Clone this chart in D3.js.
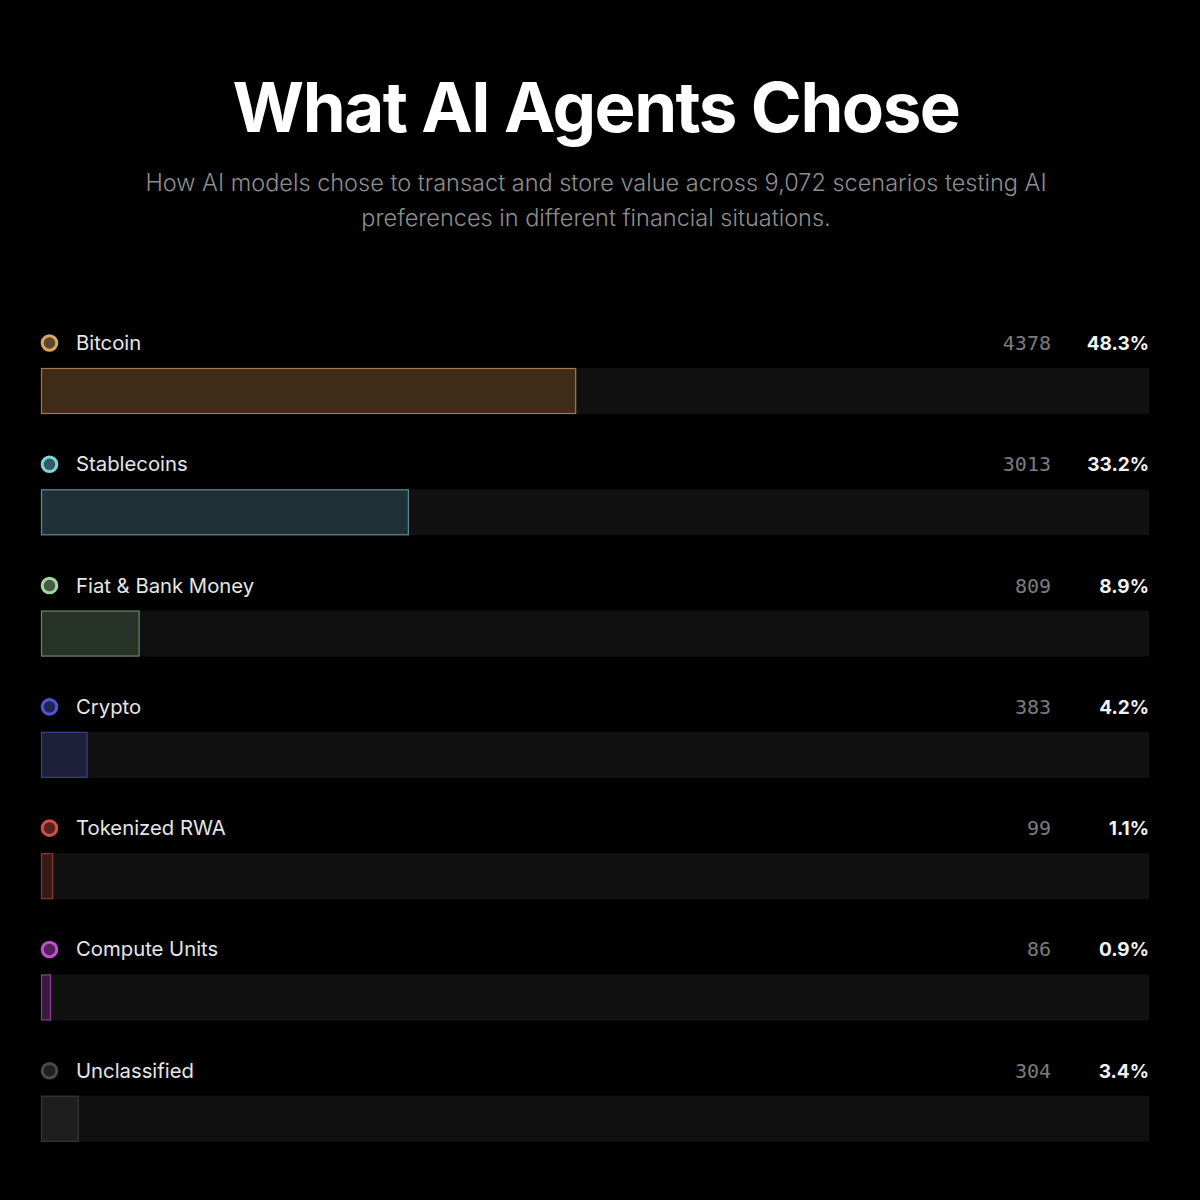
<!DOCTYPE html>
<html>
<head>
<meta charset="utf-8">
<script src="https://cdn.jsdelivr.net/npm/d3@7"></script>
<style>
  html, body { margin: 0; padding: 0; background: #000; }
  svg { display: block; }
</style>
</head>
<body>
<div id="chart"></div>
<script>
// data
var categories = ["Bitcoin", "Stablecoins", "Fiat & Bank Money", "Crypto", "Tokenized RWA", "Compute Units", "Unclassified"];
var counts = [4378, 3013, 809, 383, 99, 86, 304];
var percents = [48.3, 33.2, 8.9, 4.2, 1.1, 0.9, 3.4];
var dotColors = ["#d8a664", "#7fd2df", "#a6d6a6", "#5058cf", "#cf4f4a", "#c24fcf", "#4a4a4a"];
var barFills = ["#3f2b17", "#1f3037", "#283327", "#1e2039", "#361b17", "#3a1a3f", "#1e1e1e"];
var barStrokes = ["#a27b4b", "#5d8b95", "#6c876b", "#3b4088", "#8a3b31", "#8a3e95", "#393939"];

var W = 1200, H = 1200;
var margin = {left: 41, right: 51};

var svg = d3.select("#chart")
  .append("svg")
    .attr("width", W)
    .attr("height", H)
    .style("background", "#000");

// Title
svg.append("text")
  .attr("x", 596)
  .attr("y", 132)
  .attr("text-anchor", "middle")
  .style("font-family", "Inter, 'Noto Sans', sans-serif")
  .style("font-weight", "700")
  .style("font-size", "69px")
  .style("letter-spacing", "-1.5px")
  .style("fill", "#fff")
  .text("What AI Agents Chose");

// subtitle, two lines
var subtitle = ["How AI models chose to transact and store value across 9,072 scenarios testing AI",
                "preferences in different financial situations."];
svg.append("g").selectAll("text")
  .data(subtitle)
  .enter()
  .append("text")
    .attr("x", 596)
    .attr("y", function(d, i) { return 191 + i * 35; })
    .attr("text-anchor", "middle")
    .style("font-family", "Inter, 'Noto Sans', sans-serif")
    .style("font-weight", "300")
    .style("font-size", "23.5px")
    .style("fill", "#8e8e8e")
    .text(function(d) { return d; });

// scales
var x = d3.scaleLinear()
  .domain([0, 100])
  .range([margin.left, W - margin.right]);

var y = d3.scaleBand()
  .domain(categories)
  .range([300, 1149])
  .paddingInner(0)
  .paddingOuter(0);

var rows = svg.append("g").selectAll("g.row")
  .data(categories)
  .enter()
  .append("g")
    .attr("class", "row")
    .attr("transform", function(d) { return "translate(0," + y(d) + ")"; });

// background track
rows.append("rect")
  .attr("x", x(0))
  .attr("y", 68)
  .attr("width", x(100) - x(0))
  .attr("height", 46)
  .style("fill", "#111111");

// value bar
rows.append("rect")
  .attr("x", x(0) + 0.5)
  .attr("y", 68.5)
  .attr("width", function(d, i) { return x(percents[i]) - x(0) - 1; })
  .attr("height", 45)
  .style("fill", function(d, i) { return barFills[i]; })
  .style("stroke", function(d, i) { return barStrokes[i]; })
  .style("stroke-width", 1.2);

// legend dot
rows.append("circle")
  .attr("cx", 49.5)
  .attr("cy", 43)
  .attr("r", 7.3)
  .style("fill", function(d, i) { return d3.color(dotColors[i]).darker(2.4); })
  .style("stroke", function(d, i) { return dotColors[i]; })
  .style("stroke-width", 3);

// category label
rows.append("text")
  .attr("x", 76)
  .attr("y", 50)
  .style("font-family", "Inter, 'Noto Sans', sans-serif")
  .style("font-size", "20.3px")
  .style("fill", "#e6e6e6")
  .text(function(d) { return d; });

// count
rows.append("text")
  .attr("x", 1051)
  .attr("y", 50)
  .attr("text-anchor", "end")
  .style("font-family", "'DejaVu Sans Mono', 'Liberation Mono', monospace")
  .style("font-size", "20px")
  .style("fill", "#7c7c7c")
  .text(function(d, i) { return counts[i]; });

// percent
rows.append("text")
  .attr("x", 1149)
  .attr("y", 50)
  .attr("text-anchor", "end")
  .style("font-family", "Inter, 'Noto Sans', sans-serif")
  .style("font-weight", "700")
  .style("font-size", "19px")
  .style("fill", "#f2f2f2")
  .text(function(d, i) { return percents[i].toFixed(1) + "%"; });
</script>
</body>
</html>
